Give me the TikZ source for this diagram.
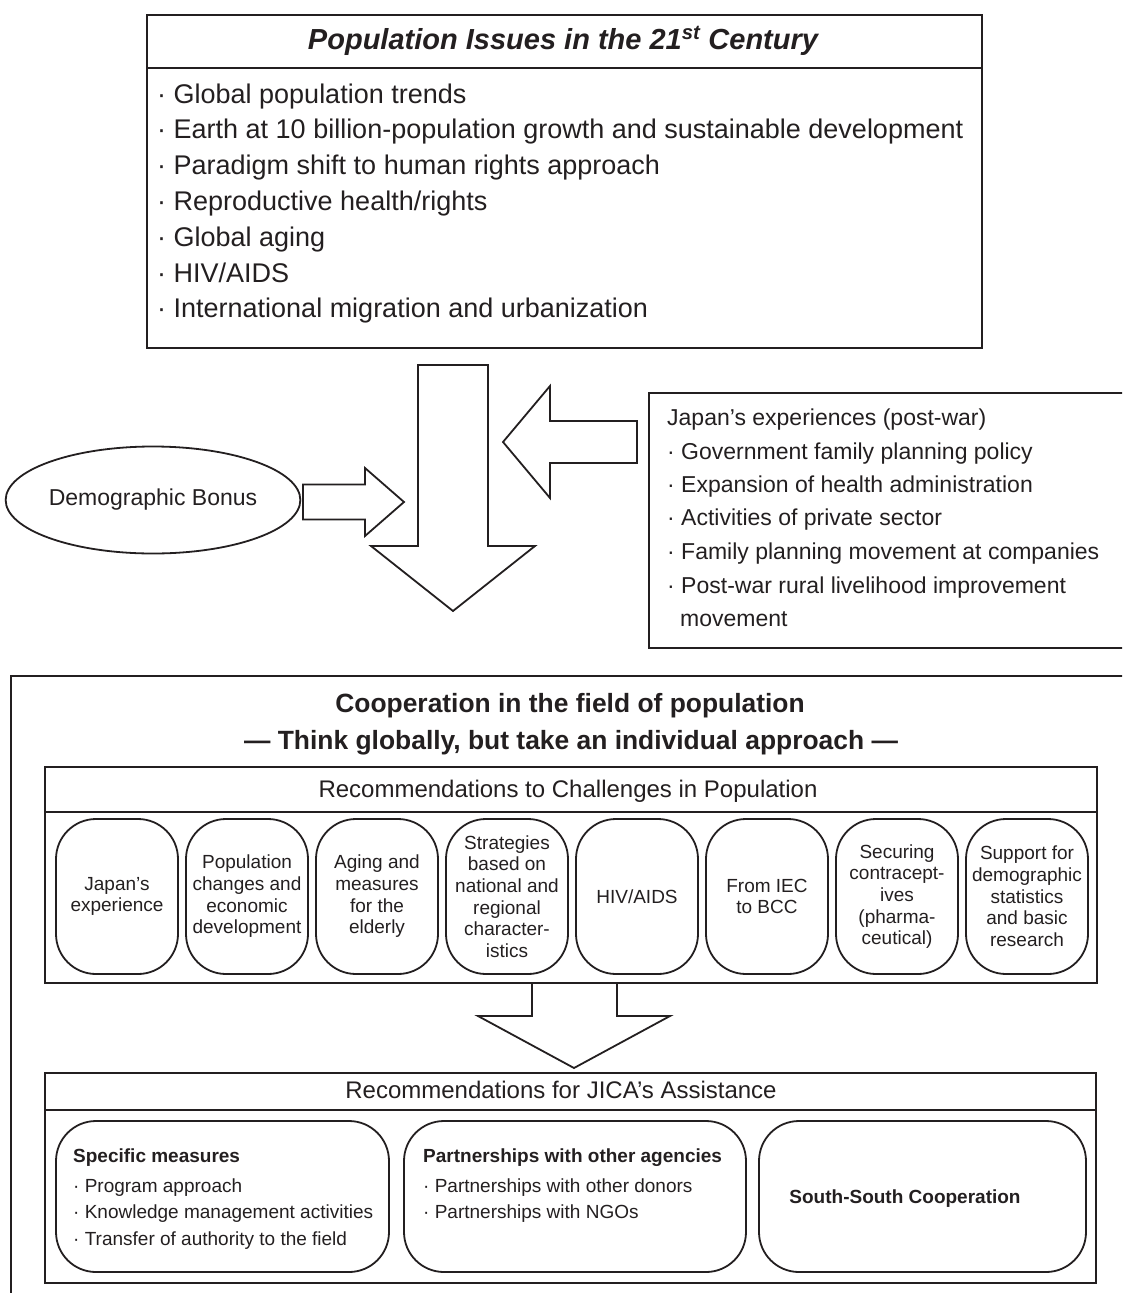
\documentclass[tikz,border=0pt]{standalone}
\usepackage{fontspec}
\setmainfont{Liberation Sans}
\usetikzlibrary{shapes.geometric}
\definecolor{ink}{HTML}{231F20}
\begin{document}
\begin{tikzpicture}[x=1pt,y=-1pt,
  frame/.style={draw=ink, line width=2pt},
  arr/.style={draw=ink, line width=1.8pt, fill=white, line join=miter},
  rbox/.style={draw=ink, line width=1.8pt, rounded corners=40pt, inner sep=0pt,
     minimum width=122pt, minimum height=155pt, align=center, text=ink,
     font=\fontsize{19}{21.7}\selectfont},
  bigr/.style={draw=ink, line width=1.8pt, rounded corners=40pt, inner sep=0pt, minimum height=151pt},
  lt/.style={inner sep=0pt, anchor=base west, text=ink},
  ct/.style={inner sep=0pt, anchor=base, text=ink},
  t27/.style={lt, font=\fontsize{27}{32}\selectfont, yshift=-7.5pt},
  t23/.style={lt, font=\fontsize{23}{28}\selectfont, yshift=-6.4pt},
  t19/.style={lt, font=\fontsize{19}{23}\selectfont, yshift=-5.3pt},
  b19/.style={lt, font=\fontsize{19}{23}\selectfont\bfseries, yshift=-5.3pt},
  h24/.style={ct, font=\fontsize{24}{29}\selectfont, yshift=-6.7pt},
  h26/.style={ct, font=\fontsize{26.4}{31}\selectfont\bfseries, yshift=-7.4pt},
]
\useasboundingbox (0,0) rectangle (1122,1293);
\clip (0,0) rectangle (1122,1293);

% ---------- top box ----------
\node[frame, inner sep=0pt, anchor=north west, minimum width=835pt, minimum height=333pt] (top) at (146,14) {};
\draw[frame] (146,68) -- (981,68);
\node[ct, font=\fontsize{29}{34}\selectfont\bfseries\itshape, yshift=-8pt] (title) at (563,41)
  {Population Issues in the 21\textsuperscript{st} Century};
\node[t27] (i1) at (157,95.5) {· Global population trends};
\node[t27] (i2) at (157,131.3) {· Earth at 10 billion-population growth and sustainable development};
\node[t27] (i3) at (157,167.1) {· Paradigm shift to human rights approach};
\node[t27] (i4) at (157,202.9) {· Reproductive health/rights};
\node[t27] (i5) at (157,238.7) {· Global aging};
\node[t27] (i6) at (157,274.5) {· HIV/AIDS};
\node[t27] (i7) at (157,310.3) {· International migration and urbanization};

% ---------- middle ----------
\draw[arr] (418,365) -- (488,365) -- (488,546) -- (535,546) -- (453,611) -- (371,546) -- (418,546) -- cycle;
\node[draw=ink, line width=1.8pt, ellipse, inner sep=0pt, minimum width=286pt, minimum height=107pt,
  text=ink, font=\fontsize{23}{28}\selectfont] (bonus) at (153,500) {Demographic Bonus};
\draw[arr] (303,484.5) -- (365,484.5) -- (365,468) -- (404,502) -- (365,536) -- (365,519.5) -- (303,519.5) -- cycle;
\draw[arr] (637,421) -- (550,421) -- (550,386) -- (503,442) -- (550,498) -- (550,463) -- (637,463) -- cycle;

\draw[frame] (1130,393) -- (649,393) -- (649,648) -- (1130,648);
\node[t23] (j0) at (667,419) {Japan’s experiences (post-war)};
\node[t23] (j1) at (667,453) {· Government family planning policy};
\node[t23] (j2) at (667,486) {· Expansion of health administration};
\node[t23] (j3) at (667,519) {· Activities of private sector};
\node[t23] (j4) at (667,553) {· Family planning movement at companies};
\node[t23] (j5) at (667,587) {· Post-war rural livelihood improvement};
\node[t23] (j6) at (680,620) {movement};

% ---------- cooperation frame ----------
\draw[frame] (11,1300) -- (11,676) -- (1130,676);
\node[h26] (c1) at (570,705) {Cooperation in the field of population};
\node[h26] (c2) at (571,742) {— Think globally, but take an individual approach —};

\draw[frame] (45,767) rectangle (1097,983);
\draw[frame] (45,812) -- (1097,812);
\node[h24] (rc) at (568,791) {Recommendations to Challenges in Population};

\node[rbox] (r1) at (117,896.5) {Japan’s\\experience};
\node[rbox] (r2) at (247,896.5) {Population\\changes and\\economic\\development};
\node[rbox] (r3) at (377,896.5) {Aging and\\measures\\for the\\elderly};
\node[rbox] (r4) at (507,896.5) {Strategies\\based on\\national and\\regional\\character-\\istics};
\node[rbox] (r5) at (637,896.5) {HIV/AIDS};
\node[rbox] (r6) at (767,896.5) {From IEC\\to BCC};
\node[rbox] (r7) at (897,896.5) {Securing\\contracept-\\ives\\(pharma-\\ceutical)};
\node[rbox] (r8) at (1027,896.5) {Support for\\demographic\\statistics\\and basic\\research};

\draw[arr, fill=none] (532,983) -- (532,1016) -- (478,1016) -- (574,1068) -- (670,1016) -- (617,1016) -- (617,983);

\draw[frame] (45,1073) rectangle (1096,1283);
\draw[frame] (45,1110) -- (1096,1110);
\node[h24] (ja) at (561,1092) {Recommendations for JICA’s Assistance};

\node[bigr, minimum width=333pt] (b1) at (222.5,1196.5) {};
\node[bigr, minimum width=342pt] (b2) at (575,1196.5) {};
\node[bigr, minimum width=327pt] (b3) at (922.5,1196.5) {};

\node[b19] (s0) at (73,1157) {Specific measures};
\node[t19] (s1) at (73,1187) {· Program approach};
\node[t19] (s2) at (73,1213.5) {· Knowledge management activities};
\node[t19] (s3) at (73,1240) {· Transfer of authority to the field};

\node[b19] (p0) at (423,1157) {Partnerships with other agencies};
\node[t19] (p1) at (423,1187) {· Partnerships with other donors};
\node[t19] (p2) at (423,1213.5) {· Partnerships with NGOs};

\node[ct, font=\fontsize{19}{23}\selectfont\bfseries, yshift=-5.3pt] (ss) at (905,1198) {South-South Cooperation};
\end{tikzpicture}
\end{document}
